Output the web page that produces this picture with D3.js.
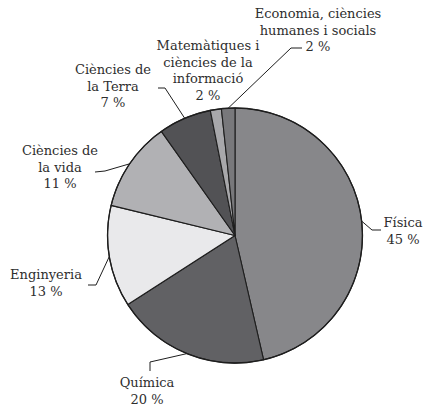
<!DOCTYPE html>
<html>
<head>
<meta charset="utf-8">
<script src="https://cdn.jsdelivr.net/npm/d3@7"></script>
<style>
  body { margin: 0; background: #fff; }
</style>
</head>
<body>
<svg id="chart" width="423" height="408"></svg>
<script>
// share of each field (clockwise from 12 o'clock)
var fields = ["Física", "Química", "Enginyeria", "Ciències de la vida", "Ciències de la Terra",
  "Matemàtiques i ciències de la informació", "Economia, ciències humanes i socials"];
var shares = [46.4, 19.5, 12.9, 11.4, 6.7, 1.4, 1.7];
var pctLabels = ["45 %", "20 %", "13 %", "11 %", "7 %", "2 %", "2 %"];
var labelLines = [
  ["Física"], ["Química"], ["Enginyeria"], ["Ciències de", "la vida"], ["Ciències de", "la Terra"],
  ["Matemàtiques i", "ciències de la", "informació"], ["Economia, ciències", "humanes i socials"]
];
var fills = ["#87878a", "#616164", "#e9e9eb", "#b1b1b4", "#525255", "#a8a8ab", "#78787b"];

// where each label sits (x centre, first baseline) and the leader line bend/end
var labelPos = [
  { x: 403, y: 227, bend: [372, 230], end: [381, 230] },
  { x: 147, y: 387, bend: [150, 362], end: [150, 371] },
  { x: 46, y: 279, bend: [96, 285], end: [88, 285] },
  { x: 60, y: 155, bend: [105, 171], end: [95, 172] },
  { x: 113, y: 74, bend: [165, 88], end: [158, 88] },
  { x: 208, y: 50, bend: null, end: null },
  { x: 318, y: 18, bend: [291, 48], end: [302, 48] }
];

var cx = 235, cy = 235.5, r = 127.5;
var svg = d3.select("#chart");
var g = svg.append("g").attr("transform", "translate(" + cx + "," + cy + ")");

var pie = d3.pie().sort(null).value(function (d) { return d; });
var arcs = pie(shares);
var arc = d3.arc().innerRadius(0).outerRadius(r);
var edge = d3.arc().innerRadius(r).outerRadius(r);

g.selectAll("path.slice")
  .data(arcs)
  .join("path")
  .attr("class", "slice")
  .attr("d", arc)
  .attr("fill", function (d, i) { return fills[i]; })
  .attr("stroke", "#1e1e1e")
  .attr("stroke-width", 1.1)
  .attr("stroke-linejoin", "round");

g.append("circle").attr("r", r).attr("fill", "none").attr("stroke", "#1e1e1e").attr("stroke-width", 1.3);

// leader lines
arcs.forEach(function (d, i) {
  var p = labelPos[i];
  if (!p.bend) return;
  var c = edge.centroid(d);
  var pts = [[c[0] + cx, c[1] + cy], p.bend, p.end];
  svg.append("path")
    .attr("d", d3.line()(pts))
    .attr("fill", "none")
    .attr("stroke", "#1e1e1e")
    .attr("stroke-width", 1);
});

// labels
labelLines.forEach(function (lines, i) {
  var p = labelPos[i];
  var t = svg.append("text")
    .attr("text-anchor", "middle")
    .style("font-family", "DejaVu Serif")
    .style("font-size", "13px")
    .style("fill", "#2e2e2e");
  lines.concat([pctLabels[i]]).forEach(function (s, k) {
    t.append("tspan").attr("x", p.x).attr("y", p.y + k * 16.7).text(s);
  });
});
</script>
</body>
</html>
